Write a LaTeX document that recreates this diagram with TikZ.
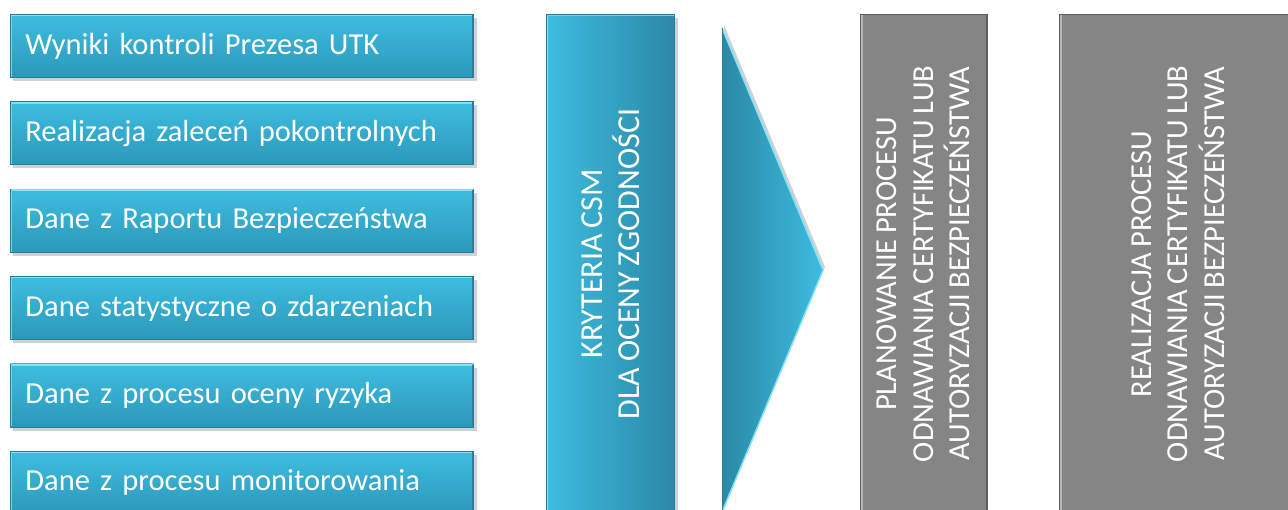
\documentclass[tikz,border=0pt]{standalone}
\usepackage{fontspec}
\setmainfont[WordSpace=0.8]{Carlito}
\begin{document}
\begin{tikzpicture}[x=1pt,y=-1pt,
  leftbox/.style={anchor=north west, minimum width=463pt, minimum height=63pt,
    text width=433pt, align=left, inner xsep=15pt, inner ysep=0pt,
    top color=tealA, bottom color=tealB, draw=tealD, line width=0.8pt,
    text=white, font=\fontsize{30.5}{33}\selectfont},
  vtext/.style={rotate=90, align=center, text=white, inner sep=0pt},
  shadowc/.style={fill=black, opacity=0.18}
]
\definecolor{tealA}{HTML}{3DBDE0}
\definecolor{tealB}{HTML}{2C98BA}
\definecolor{tealC}{HTML}{2B88A6}
\definecolor{tealD}{HTML}{267E9A}
\definecolor{tealL}{HTML}{7FE3FA}
\definecolor{grayF}{HTML}{858585}
\definecolor{grayL}{HTML}{B8B8B8}
\definecolor{grayD}{HTML}{5E5E5E}
\useasboundingbox (0,0) rectangle (1288,510);
\fill[white] (0,0) rectangle (1288,510);
\begin{scope}
\clip (0,0) rectangle (1288,510);
% left boxes
\foreach \i/\t in {0/{Wyniki kontroli Prezesa UTK},
                   1/{Realizacja zaleceń pokontrolnych},
                   2/{Dane z Raportu Bezpieczeństwa},
                   3/{Dane statystyczne o zdarzeniach},
                   4/{Dane z procesu oceny ryzyka},
                   5/{Dane z procesu monitorowania}}{
  \pgfmathsetmacro{\yy}{14+87.4*\i}
  \fill[shadowc] (13,\yy+4) rectangle (477,\yy+67);
  \node[leftbox] (in\i) at (10,\yy) {\t};
  \draw[tealL, line width=1.6pt] ([xshift=1pt,yshift=-1.5pt]in\i.north west) -- ([xshift=-1pt,yshift=-1.5pt]in\i.north east);
  \draw[tealL!70!tealA, line width=1.4pt] ([xshift=1.5pt,yshift=-1pt]in\i.north west) -- ([xshift=1.5pt,yshift=1pt]in\i.south west);
  \draw[tealD, line width=1.4pt] ([xshift=-1.2pt,yshift=-1pt]in\i.north east) -- ([xshift=-1.2pt,yshift=1pt]in\i.south east);
}
% CSM box
\fill[shadowc] (549,18) rectangle (678,520);
\node[anchor=north west, minimum width=128pt, minimum height=510pt, inner sep=0pt,
      left color=tealA, right color=tealC, draw=tealD, line width=0.8pt] (csm) at (546,14) {};
\draw[tealL, line width=1.6pt] ([xshift=1.5pt,yshift=-1pt]csm.north west) -- ([xshift=1.5pt]csm.south west);
\draw[tealL!60!tealA, line width=1.2pt] ([xshift=1pt,yshift=-1.5pt]csm.north west) -- ([xshift=-1pt,yshift=-1.5pt]csm.north east);
\node[vtext, font=\fontsize{32}{37}\selectfont] (csmt) at (611,264) {KRYTERIA CSM\\DLA OCENY ZGODNOŚCI};
% arrow
\coordinate (atop) at (722,28);
\coordinate (atip) at (823,270);
\coordinate (abot) at (722,512);
\fill[shadowc] ([xshift=2pt,yshift=3pt]atop) -- ([xshift=2pt,yshift=3pt]atip) -- ([xshift=2pt,yshift=3pt]abot) -- cycle;
\shade[left color=tealC, right color=tealA] (atop) -- (atip) -- (abot) -- cycle;
\draw[tealL, line width=1.4pt, line join=round] (atop) -- (atip) -- (abot);
\draw[tealD, line width=1pt] (atop) -- (abot);
% gray boxes
\node[anchor=north west, minimum width=127pt, minimum height=510pt, inner sep=0pt,
      fill=grayF, draw=grayD, line width=0.8pt] (plan) at (860,14) {};
\draw[grayL, line width=2pt] ([xshift=2pt,yshift=-1pt]plan.north west) -- ([xshift=2pt]plan.south west);
\draw[grayD, line width=1.4pt] ([xshift=-1pt,yshift=-1pt]plan.north east) -- ([xshift=-1pt]plan.south east);
\node[vtext, font=\fontsize{30.5}{36.5}\selectfont] (plant) at (923.5,264)
  {PLANOWANIE PROCESU\\ODNAWIANIA CERTYFIKATU LUB\\AUTORYZACJI BEZPIECZEŃSTWA};
\node[anchor=north west, minimum width=240pt, minimum height=510pt, inner sep=0pt,
      fill=grayF, draw=grayD, line width=0.8pt] (real) at (1059,14) {};
\draw[grayL, line width=2pt] ([xshift=2pt,yshift=-1pt]real.north west) -- ([xshift=2pt]real.south west);
\node[vtext, font=\fontsize{30.5}{36.5}\selectfont] (realt) at (1178,264)
  {REALIZACJA PROCESU\\ODNAWIANIA CERTYFIKATU LUB\\AUTORYZACJI BEZPIECZEŃSTWA};
\end{scope}
\end{tikzpicture}
\end{document}
